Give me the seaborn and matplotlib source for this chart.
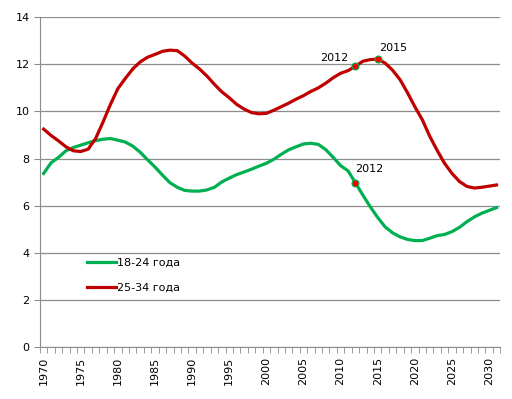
import numpy as np
import pandas as pd
import matplotlib
matplotlib.use("Agg")
import matplotlib.pyplot as plt
from matplotlib.ticker import MultipleLocator, FixedLocator
import seaborn as sns

# --- data ---
years = list(range(1970, 2032))

age_18_24 = [7.37, 7.82, 8.05, 8.33, 8.47, 8.57, 8.67, 8.76, 8.82, 8.85,
             8.78, 8.70, 8.53, 8.27, 7.95, 7.64, 7.30, 6.98, 6.78, 6.65,
             6.62, 6.62, 6.67, 6.78, 7.01, 7.17, 7.32, 7.43, 7.55, 7.68,
             7.80, 7.97, 8.18, 8.37, 8.50, 8.62, 8.65, 8.60, 8.38, 8.05,
             7.70, 7.48, 6.97, 6.45, 5.95, 5.50, 5.10, 4.85, 4.68, 4.57,
             4.52, 4.52, 4.62, 4.73, 4.78, 4.90, 5.08, 5.32, 5.52, 5.68,
             5.80, 5.92]

age_25_34 = [9.25, 8.98, 8.75, 8.50, 8.33, 8.30, 8.40, 8.85, 9.55, 10.30,
             10.97, 11.40, 11.80, 12.10, 12.30, 12.42, 12.55, 12.60, 12.58, 12.35,
             12.05, 11.80, 11.50, 11.15, 10.83, 10.58, 10.30, 10.10, 9.95, 9.90,
             9.92, 10.05, 10.20, 10.35, 10.52, 10.67, 10.85, 11.00, 11.20, 11.43,
             11.62, 11.73, 11.92, 12.13, 12.20, 12.22, 12.05, 11.75, 11.35, 10.80,
             10.20, 9.65, 8.95, 8.35, 7.80, 7.37, 7.03, 6.82, 6.75, 6.78,
             6.83, 6.88]

series_names = ["18-24 года", "25-34 года"]
series_colors = ["#00B050", "#C00000"]

# points marked on the chart: (series, year, label offset in points)
marked = [("25-34 года", 2012, (-15, 6)),
          ("25-34 года", 2015, (11, 8)),
          ("18-24 года", 2012, (10, 10))]

df = pd.DataFrame({
    "year": years * 2,
    "value": age_18_24 + age_25_34,
    "group": [series_names[0]] * len(years) + [series_names[1]] * len(years),
})

plt.rcParams["font.family"] = ["DejaVu Sans"]
fig = plt.figure(figsize=(5.12, 3.99), dpi=100)
ax = fig.add_axes([0.078, 0.130, 0.899, 0.827])

sns.lineplot(data=df, x="year", y="value", hue="group", hue_order=series_names,
             palette=series_colors, linewidth=2.3, ax=ax)

lookup = {series_names[0]: dict(zip(years, age_18_24)),
          series_names[1]: dict(zip(years, age_25_34))}
for name, yr, off in marked:
    val = lookup[name][yr]
    ax.plot(yr, val, "o", color="#FF0000", markeredgecolor="#00B050",
            markeredgewidth=0.8, markersize=5, zorder=5)
    ax.annotate(str(yr), (yr, val), xytext=off, textcoords="offset points",
                ha="center", va="center", fontsize=8)

# axes styling
ax.set_xlim(1969.5, 2031.5)
ax.set_ylim(0, 14)
ax.yaxis.set_major_locator(MultipleLocator(2))
ax.grid(axis="y", color="#8C8C8C", linewidth=0.9)
ax.set_axisbelow(True)
for side in ["top", "right"]:
    ax.spines[side].set_visible(False)
for side in ["left", "bottom"]:
    ax.spines[side].set_color("#8C8C8C")
ax.xaxis.set_major_locator(FixedLocator(list(range(1970, 2031, 5))))
ax.xaxis.set_minor_locator(FixedLocator([y - 0.5 for y in years] + [2031.5]))
ax.tick_params(axis="x", which="major", length=0, pad=7, labelsize=8,
               labelrotation=90)
ax.tick_params(axis="x", which="minor", length=4, color="#8C8C8C", direction="out")
ax.tick_params(axis="y", length=4, color="#8C8C8C", labelsize=8)
ax.set_xlabel("")
ax.set_ylabel("")

leg = ax.legend(loc="upper left", bbox_to_anchor=(0.093, 0.284), frameon=False,
                fontsize=8, handlelength=2.6, handletextpad=0.1,
                labelspacing=1.35, borderaxespad=0)

fig.savefig("out.png", dpi=100)
